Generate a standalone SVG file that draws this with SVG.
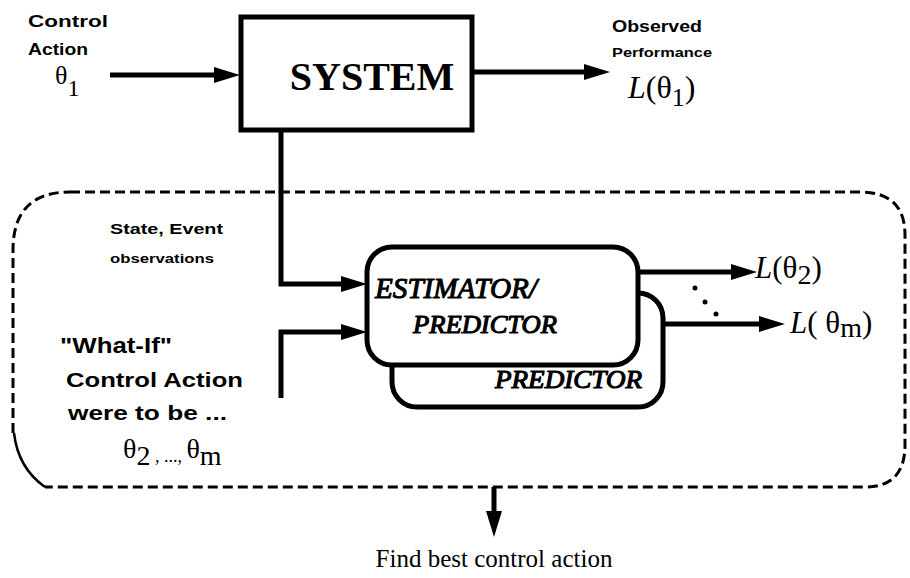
<svg xmlns="http://www.w3.org/2000/svg" width="910" height="578" viewBox="0 0 910 578">
<style>
.sans{font-family:"Liberation Sans",Arial,sans-serif;font-weight:bold;fill:#000}
.serif{font-family:"Liberation Serif","Times New Roman",serif;fill:#000}
.bi{font-family:"Liberation Serif","Times New Roman",serif;font-style:italic;font-weight:normal;fill:#000;stroke:#000;stroke-width:1.1;stroke-linejoin:round}
.wire{fill:none;stroke:#000;stroke-width:5}
.box{fill:#fff;stroke:#000;stroke-width:5}
</style>
<defs>
<marker id="ah" markerUnits="userSpaceOnUse" markerWidth="28" markerHeight="18" refX="6" refY="8" orient="auto">
<path d="M0,0 L26,8 L0,16 z" fill="#000"/>
</marker>
</defs>

<g id="boundary">
<path d="M70 192 L860 192 Q905 192 905 235 L905 445 Q905 487 865 487 L45 487" fill="none" stroke="#000" stroke-width="3" stroke-dasharray="10,5"/>
<path d="M13 433 L13 250 Q13 192 70 192" fill="none" stroke="#000" stroke-width="3" stroke-dasharray="10,5"/>
<path d="M45 487 Q18 468 14 433" fill="none" stroke="#000" stroke-width="2.5"/>
</g>

<g id="connectors">
<line class="wire" x1="110" y1="75" x2="220" y2="75" marker-end="url(#ah)"/>
<line class="wire" x1="472" y1="72" x2="590" y2="72" marker-end="url(#ah)"/>
<polyline class="wire" points="281,130 281,284 347,284" marker-end="url(#ah)"/>
<polyline class="wire" points="281,398 281,332 347,332" marker-end="url(#ah)"/>
<line class="wire" x1="640" y1="272" x2="737" y2="272" marker-end="url(#ah)"/>
<line class="wire" x1="663" y1="324" x2="765" y2="324" marker-end="url(#ah)"/>
<line class="wire" x1="494" y1="487" x2="494" y2="517" marker-end="url(#ah)"/>
<circle cx="695" cy="288" r="2.5" fill="#000"/>
<circle cx="705" cy="302" r="2.5" fill="#000"/>
<circle cx="716" cy="314" r="2.5" fill="#000"/>
</g>

<g id="system">
<rect class="box" x="241" y="17" width="231" height="113"/>
<text class="serif" x="372" y="90" font-size="40" font-weight="bold" text-anchor="middle">SYSTEM</text>
</g>

<g id="control-action">
<text class="sans" x="28" y="27" font-size="17" textLength="80" lengthAdjust="spacingAndGlyphs">Control</text>
<text class="sans" x="28" y="55" font-size="16" textLength="60" lengthAdjust="spacingAndGlyphs">Action</text>
<text class="serif" x="55" y="84" font-size="26">θ<tspan font-size="24" dy="12">1</tspan></text>
</g>

<g id="observed">
<text class="sans" x="612" y="32" font-size="17" textLength="90" lengthAdjust="spacingAndGlyphs">Observed</text>
<text class="sans" x="612" y="57" font-size="13" textLength="100" lengthAdjust="spacingAndGlyphs">Performance</text>
<text class="serif" x="628" y="98" font-size="32"><tspan font-style="italic">L</tspan>(θ<tspan font-size="26" dy="8">1</tspan><tspan dy="-8">)</tspan></text>
</g>

<g id="state-label">
<text class="sans" x="110" y="234" font-size="15" textLength="113" lengthAdjust="spacingAndGlyphs">State, Event</text>
<text class="sans" x="110" y="263" font-size="13" textLength="104" lengthAdjust="spacingAndGlyphs">observations</text>
</g>

<g id="whatif-label">
<text class="sans" x="60" y="353" font-size="22" textLength="112" lengthAdjust="spacingAndGlyphs">"What-If"</text>
<text class="sans" x="66" y="387" font-size="21" textLength="177" lengthAdjust="spacingAndGlyphs">Control Action</text>
<text class="sans" x="68" y="420" font-size="21" textLength="159" lengthAdjust="spacingAndGlyphs">were to be ...</text>
<text class="serif" x="123" y="458" font-size="28">θ<tspan font-size="28" dy="7">2</tspan><tspan font-size="18" dy="-3"> , ..., </tspan><tspan font-size="28" dy="-4">θ</tspan><tspan font-size="28" dy="7">m</tspan></text>
</g>

<g id="estimator-back">
<rect class="box" x="392" y="293" width="271" height="114" rx="25"/>
<text class="bi" x="495" y="388" font-size="25" textLength="147" lengthAdjust="spacingAndGlyphs">PREDICTOR</text>
</g>

<g id="estimator-front">
<rect class="box" x="367" y="247" width="271" height="118" rx="25"/>
<text class="bi" x="375" y="298" font-size="30" textLength="162" lengthAdjust="spacingAndGlyphs">ESTIMATOR/</text>
<text class="bi" x="413" y="333" font-size="25" textLength="144" lengthAdjust="spacingAndGlyphs">PREDICTOR</text>
</g>

<g id="outputs">
<text class="serif" x="755" y="278" font-size="31"><tspan font-style="italic">L</tspan>(θ<tspan font-size="28" dy="6">2</tspan><tspan dy="-6">)</tspan></text>
<text class="serif" x="790" y="333" font-size="31"><tspan font-style="italic">L</tspan>( θ<tspan font-size="28" dy="4">m</tspan><tspan dy="-4">)</tspan></text>
</g>

<g id="result">
<text class="serif" x="494" y="567" font-size="25" text-anchor="middle">Find best control action</text>
</g>
</svg>
